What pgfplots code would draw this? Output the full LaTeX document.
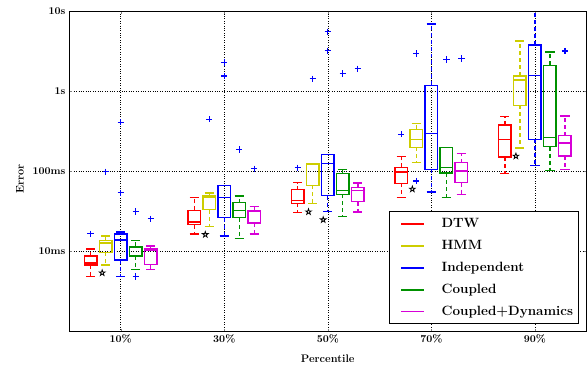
\documentclass[border=0pt]{standalone}
\usepackage{pgfplots}
\pgfplotsset{compat=1.18}
\usepgfplotslibrary{statistics}
\usetikzlibrary{plotmarks}

\definecolor{cred}{RGB}{255,0,0}
\definecolor{cyel}{RGB}{205,205,0}
\definecolor{cblu}{RGB}{0,0,255}
\definecolor{cgrn}{RGB}{0,145,0}
\definecolor{cmag}{RGB}{215,0,215}

\pgfdeclareplotmark{pentagram}{%
  \pgfpathmoveto{\pgfpointpolar{90}{\pgfplotmarksize}}%
  \pgfpathlineto{\pgfpointpolar{126}{0.382\pgfplotmarksize}}%
  \pgfpathlineto{\pgfpointpolar{162}{\pgfplotmarksize}}%
  \pgfpathlineto{\pgfpointpolar{198}{0.382\pgfplotmarksize}}%
  \pgfpathlineto{\pgfpointpolar{234}{\pgfplotmarksize}}%
  \pgfpathlineto{\pgfpointpolar{270}{0.382\pgfplotmarksize}}%
  \pgfpathlineto{\pgfpointpolar{306}{\pgfplotmarksize}}%
  \pgfpathlineto{\pgfpointpolar{342}{0.382\pgfplotmarksize}}%
  \pgfpathlineto{\pgfpointpolar{18}{\pgfplotmarksize}}%
  \pgfpathlineto{\pgfpointpolar{54}{0.382\pgfplotmarksize}}%
  \pgfpathclose
  \pgfusepathqstroke
}

\pgfplotsset{
  boxplot/draw/lower whisker/.code={%
    \draw[dash pattern=on 4bp off 3bp]
      (boxplot box cs:\pgfplotsboxplotvalue{lower quartile},0.5) --
      (boxplot box cs:\pgfplotsboxplotvalue{lower whisker},0.5);
    \draw[solid]
      (boxplot whisker cs:\pgfplotsboxplotvalue{lower whisker},0) --
      (boxplot whisker cs:\pgfplotsboxplotvalue{lower whisker},1);
  },
  boxplot/draw/upper whisker/.code={%
    \draw[dash pattern=on 4bp off 3bp]
      (boxplot box cs:\pgfplotsboxplotvalue{upper quartile},0.5) --
      (boxplot box cs:\pgfplotsboxplotvalue{upper whisker},0.5);
    \draw[solid]
      (boxplot whisker cs:\pgfplotsboxplotvalue{upper whisker},0) --
      (boxplot whisker cs:\pgfplotsboxplotvalue{upper whisker},1);
  },
  bx/.style={solid, line width=1.4bp, forget plot, mark=+, mark size=3.2bp,
    mark options={color=cblu, solid, line width=1.3bp},
    boxplot/draw direction=y,
    boxplot/box extend=0.12, boxplot/whisker extend=0.09},
}

\begin{document}
\begin{tikzpicture}
\begin{axis}[
  scale only axis,
  width=518bp, height=321bp,
  xmin=0.5, xmax=5.5,
  ymode=log, ymin=0.001, ymax=10,
  xtick={1,2,3,4,5},
  xticklabels={\textbf{10\%},\textbf{30\%},\textbf{50\%},\textbf{70\%},\textbf{90\%}},
  ytick={0.01,0.1,1,10},
  yticklabels={\textbf{10ms},\textbf{100ms},\textbf{1s},\textbf{10s}},
  yminorticks=false,
  tick align=inside,
  major tick length=3bp,
  grid=major,
  major grid style={black, dotted, line width=0.5bp},
  axis line style={black, line width=0.8bp},
  ticklabel style={font=\fontsize{10.5}{12}\selectfont\bfseries},
  xticklabel style={yshift=1bp},
  xlabel={\textbf{Percentile}},
  ylabel={\textbf{Error}},
  every axis y label/.style={at={(axis description cs:-0.0946,0.4766)}, rotate=90, anchor=center, font=\fontsize{11}{13}\selectfont\bfseries},
  every axis x label/.style={at={(axis description cs:0.5,0)}, yshift=-20bp, anchor=north, font=\fontsize{11}{13}\selectfont\bfseries},
  legend image code/.code={\path (-9bp,0bp); \draw[#1] (0bp,0bp) -- (23bp,0bp); \path (36bp,0bp);},
  legend cell align=left,
  legend style={at={(1,0)}, anchor=south east, xshift=-7.7bp, yshift=7.7bp,
    line width=0.8bp, fill=white,
    font=\fontsize{13.5}{15}\selectfont\bfseries,
    inner xsep=2bp, inner ysep=1bp,
    nodes={inner xsep=3.5bp, inner ysep=0bp, minimum height=22bp}},
]

% ---- 10% ----
\addplot[cred, bx, boxplot prepared={draw position=0.71, lower whisker=0.00487, lower quartile=0.00682, median=0.0072, upper quartile=0.00884, upper whisker=0.0108}] coordinates {(0,0.01664)};
\addplot[cyel, bx, boxplot prepared={draw position=0.855, lower whisker=0.00682, lower quartile=0.0098, median=0.01285, upper quartile=0.01372, upper whisker=0.0157}] coordinates {(0,0.099)};
\addplot[cblu, bx, boxplot prepared={draw position=1.0, lower whisker=0.00487, lower quartile=0.00788, median=0.0140, upper quartile=0.01664, upper whisker=0.0175}] coordinates {(0,0.41) (0,0.0542)};
\addplot[cgrn, bx, boxplot prepared={draw position=1.145, lower whisker=0.00596, lower quartile=0.00884, median=0.0113, upper quartile=0.01165, upper whisker=0.01372}] coordinates {(0,0.0316) (0,0.00487)};
\addplot[cmag, bx, boxplot prepared={draw position=1.29, lower whisker=0.00593, lower quartile=0.00688, median=0.0104, upper quartile=0.0108, upper whisker=0.01178}] coordinates {(0,0.0256)};

% ---- 30% ----
\addplot[cred, bx, boxplot prepared={draw position=1.71, lower whisker=0.01664, lower quartile=0.0216, median=0.0235, upper quartile=0.03255, upper whisker=0.0469}] coordinates {};
\addplot[cyel, bx, boxplot prepared={draw position=1.855, lower whisker=0.0205, lower quartile=0.0332, median=0.048, upper quartile=0.0501, upper whisker=0.0535}] coordinates {(0,0.447)};
\addplot[cblu, bx, boxplot prepared={draw position=2.0, lower whisker=0.0157, lower quartile=0.0264, median=0.0473, upper quartile=0.0668, upper whisker=0.0668}] coordinates {(0,2.28) (0,1.54)};
\addplot[cgrn, bx, boxplot prepared={draw position=2.145, lower whisker=0.01466, lower quartile=0.0264, median=0.03255, upper quartile=0.0406, upper whisker=0.0491}] coordinates {(0,0.188)};
\addplot[cmag, bx, boxplot prepared={draw position=2.29, lower whisker=0.01664, lower quartile=0.0226, median=0.0318, upper quartile=0.03255, upper whisker=0.0365}] coordinates {(0,0.108)};

% ---- 50% ----
\addplot[cred, bx, boxplot prepared={draw position=2.71, lower whisker=0.0307, lower quartile=0.0401, median=0.0434, upper quartile=0.059, upper whisker=0.0722}] coordinates {(0,0.111)};
\addplot[cyel, bx, boxplot prepared={draw position=2.855, lower whisker=0.0395, lower quartile=0.0668, median=0.123, upper quartile=0.1259, upper whisker=0.1259}] coordinates {(0,1.43)};
\addplot[cblu, bx, boxplot prepared={draw position=3.0, lower whisker=0.0316, lower quartile=0.0497, median=0.1248, upper quartile=0.163, upper whisker=0.163}] coordinates {(0,5.51) (0,3.19)};
\addplot[cgrn, bx, boxplot prepared={draw position=3.145, lower whisker=0.0274, lower quartile=0.0516, median=0.0579, upper quartile=0.0936, upper whisker=0.106}] coordinates {(0,1.66)};
\addplot[cmag, bx, boxplot prepared={draw position=3.29, lower whisker=0.0313, lower quartile=0.0418, median=0.0579, upper quartile=0.0626, upper whisker=0.0714}] coordinates {(0,1.90)};

% ---- 70% ----
\addplot[cred, bx, boxplot prepared={draw position=3.71, lower whisker=0.0473, lower quartile=0.0708, median=0.098, upper quartile=0.112, upper whisker=0.154}] coordinates {(0,0.290)};
\addplot[cyel, bx, boxplot prepared={draw position=3.855, lower whisker=0.1285, lower quartile=0.1995, median=0.251, upper quartile=0.335, upper whisker=0.394}] coordinates {(0,2.96) (0,0.0756)};
\addplot[cblu, bx, boxplot prepared={draw position=4.0, lower whisker=0.0551, lower quartile=0.106, median=0.296, upper quartile=1.178, upper whisker=6.88}] coordinates {};
\addplot[cgrn, bx, boxplot prepared={draw position=4.145, lower whisker=0.0473, lower quartile=0.0953, median=0.111, upper quartile=0.198, upper whisker=0.198}] coordinates {(0,2.49)};
\addplot[cmag, bx, boxplot prepared={draw position=4.29, lower whisker=0.0516, lower quartile=0.0722, median=0.1009, upper quartile=0.1285, upper whisker=0.1664}] coordinates {(0,2.56)};

% ---- 90% ----
\addplot[cred, bx, boxplot prepared={draw position=4.71, lower whisker=0.0936, lower quartile=0.151, median=0.251, upper quartile=0.379, upper whisker=0.483}] coordinates {};
\addplot[cyel, bx, boxplot prepared={draw position=4.855, lower whisker=0.1955, lower quartile=0.663, median=1.372, upper quartile=1.553, upper whisker=4.22}] coordinates {};
\addplot[cblu, bx, boxplot prepared={draw position=5.0, lower whisker=0.118, lower quartile=0.251, median=1.571, upper quartile=3.76, upper whisker=12}] coordinates {};
\addplot[cgrn, bx, boxplot prepared={draw position=5.145, lower whisker=0.102, lower quartile=0.2037, median=0.266, upper quartile=2.096, upper whisker=3.07}] coordinates {};
\addplot[cmag, bx, boxplot prepared={draw position=5.29, lower whisker=0.106, lower quartile=0.155, median=0.226, upper quartile=0.279, upper whisker=0.491}] coordinates {(0,3.16)};

% stars
\addplot[only marks, mark=pentagram, mark size=3bp, black, line width=0.8bp, forget plot]
  coordinates {(0.821,0.00542) (1.817,0.0163) (2.814,0.0313) (2.956,0.0249) (3.817,0.0601) (4.817,0.155)};

\addlegendimage{color=cred, line width=1.6bp}
\addlegendentry{DTW}
\addlegendimage{color=cyel, line width=1.6bp}
\addlegendentry{HMM}
\addlegendimage{color=cblu, line width=1.6bp}
\addlegendentry{Independent}
\addlegendimage{color=cgrn, line width=1.6bp}
\addlegendentry{Coupled}
\addlegendimage{color=cmag, line width=1.6bp}
\addlegendentry{Coupled+Dynamics}
\end{axis}
\path ([xshift=-69bp,yshift=-35bp]current axis.south west) rectangle ([yshift=11bp]current axis.north east);
\end{tikzpicture}
\end{document}
